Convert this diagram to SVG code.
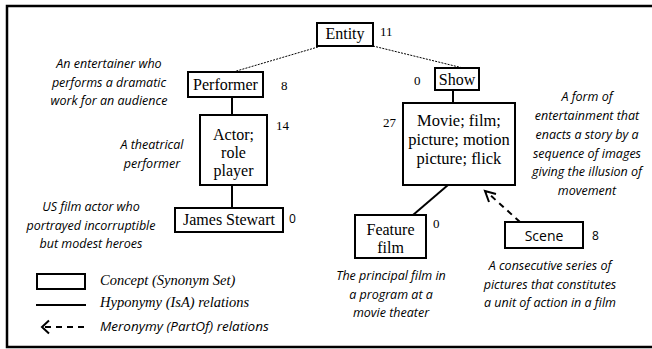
<svg xmlns="http://www.w3.org/2000/svg" width="652" height="349" viewBox="0 0 652 349">
<style>
.box{fill:#fff;stroke:#000;stroke-width:2}
.nt{font-family:"Liberation Serif","Times New Roman",serif;font-size:16px;fill:#000;text-anchor:middle}
.mv{font-size:16.5px}
.num{font-family:"Liberation Serif","Times New Roman",serif;font-size:13px;fill:#000}
.snum{font-family:"Open Sans","Liberation Sans",sans-serif;font-size:12px;fill:#000}
.desc{font-family:"Open Sans","Liberation Sans",sans-serif;font-style:italic;font-size:12.5px;fill:#000;text-anchor:middle}
.sans{font-family:"Open Sans","Liberation Sans",sans-serif;font-size:14px;fill:#000;text-anchor:middle}
.leg{font-family:"Liberation Serif","Times New Roman",serif;font-style:italic;font-size:14.5px;fill:#000}
.legs{font-family:"Open Sans","Liberation Sans",sans-serif;font-style:italic;font-size:13.5px;fill:#000}
.solid{stroke:#000;stroke-width:2;fill:none}
.dot{stroke:#000;stroke-width:1;stroke-dasharray:2 1.2;fill:none}
.dash{stroke:#000;stroke-width:2;stroke-dasharray:6 5;fill:none}
.head{stroke:#000;stroke-width:2;fill:none}
</style>
<rect x="7" y="6" width="700" height="341" fill="#fff" stroke="#000" stroke-width="2.5"/>

<g id="connectors">
  <line class="dot" x1="318" y1="47" x2="233" y2="72"/>
  <line class="dot" x1="373" y1="46" x2="463" y2="68"/>
  <line class="solid" x1="232" y1="97" x2="232" y2="115"/>
  <line class="solid" x1="232" y1="185" x2="232" y2="208"/>
  <line class="solid" x1="453" y1="90" x2="453" y2="103"/>
  <line class="solid" x1="448" y1="185" x2="413" y2="215"/>
  <line class="dash" x1="520" y1="222" x2="489" y2="194"/>
  <polyline class="head" points="496,194 485,191 489,202"/>
</g>

<g id="entity">
  <rect class="box" x="317" y="23" width="56" height="23"/>
  <text class="nt" x="345" y="39">Entity</text>
  <text class="num" x="380" y="36">11</text>
</g>

<g id="performer">
  <rect class="box" x="188" y="72" width="75" height="25"/>
  <text class="nt" x="225.5" y="90">Performer</text>
  <text class="num" x="281" y="90">8</text>
  <text class="desc" x="109" y="68">An entertainer who</text>
  <text class="desc" x="109" y="86.5">performs a dramatic</text>
  <text class="desc" x="109" y="105">work for an audience</text>
</g>

<g id="actor">
  <rect class="box" x="200" y="115" width="67" height="70"/>
  <text class="nt" x="233.5" y="140">Actor;</text>
  <text class="nt" x="233.5" y="158">role</text>
  <text class="nt" x="233.5" y="176">player</text>
  <text class="num" x="276" y="130">14</text>
  <text class="desc" x="152" y="149">A theatrical</text>
  <text class="desc" x="152" y="167.5">performer</text>
</g>

<g id="james">
  <rect class="box" x="175" y="208" width="108" height="24"/>
  <text class="nt" x="229" y="225">James Stewart</text>
  <text class="snum" x="289" y="223">0</text>
  <text class="desc" x="91" y="211">US film actor who</text>
  <text class="desc" x="91" y="229.5">portrayed incorruptible</text>
  <text class="desc" x="91" y="248">but modest heroes</text>
</g>

<g id="show">
  <rect class="box" x="435" y="68" width="44" height="22"/>
  <text class="nt" x="457" y="85">Show</text>
  <text class="num" x="414" y="85">0</text>
</g>

<g id="movie">
  <rect class="box" x="403" y="103" width="112" height="82"/>
  <text class="nt mv" x="459" y="126">Movie; film;</text>
  <text class="nt mv" x="459" y="145">picture; motion</text>
  <text class="nt mv" x="459" y="164">picture; flick</text>
  <text class="num" x="383" y="127">27</text>
  <text class="desc" x="587" y="101">A form of</text>
  <text class="desc" x="587" y="120">entertainment that</text>
  <text class="desc" x="587" y="139">enacts a story by a</text>
  <text class="desc" x="587" y="157.5">sequence of images</text>
  <text class="desc" x="587" y="176">giving the illusion of</text>
  <text class="desc" x="587" y="195">movement</text>
</g>

<g id="feature">
  <rect class="box" x="355" y="215" width="71" height="43"/>
  <text class="nt" x="390.5" y="235">Feature</text>
  <text class="nt" x="390.5" y="253">film</text>
  <text class="num" x="433" y="228">0</text>
  <text class="desc" x="391" y="280">The principal film in</text>
  <text class="desc" x="391" y="298.5">a program at a</text>
  <text class="desc" x="391" y="317">movie theater</text>
</g>

<g id="scene">
  <rect class="box" x="505" y="222" width="78" height="26"/>
  <text class="sans" x="544" y="241">Scene</text>
  <text class="snum" x="592" y="240">8</text>
  <text class="desc" x="550" y="270">A consecutive series of</text>
  <text class="desc" x="550" y="288.5">pictures that constitutes</text>
  <text class="desc" x="550" y="307">a unit of action in a film</text>
</g>

<g id="legend">
  <rect class="box" x="37" y="274" width="48" height="15"/>
  <text class="leg" x="100" y="285">Concept (Synonym Set)</text>
  <line class="solid" x1="36" y1="305" x2="86" y2="305"/>
  <text class="leg" x="100" y="307">Hyponymy (IsA) relations</text>
  <line class="dash" x1="45" y1="327" x2="88" y2="327"/>
  <polyline class="head" points="49,320.5 42,327 49,333.5"/>
  <text class="legs" x="100" y="331">Meronymy (PartOf) relations</text>
</g>
</svg>
